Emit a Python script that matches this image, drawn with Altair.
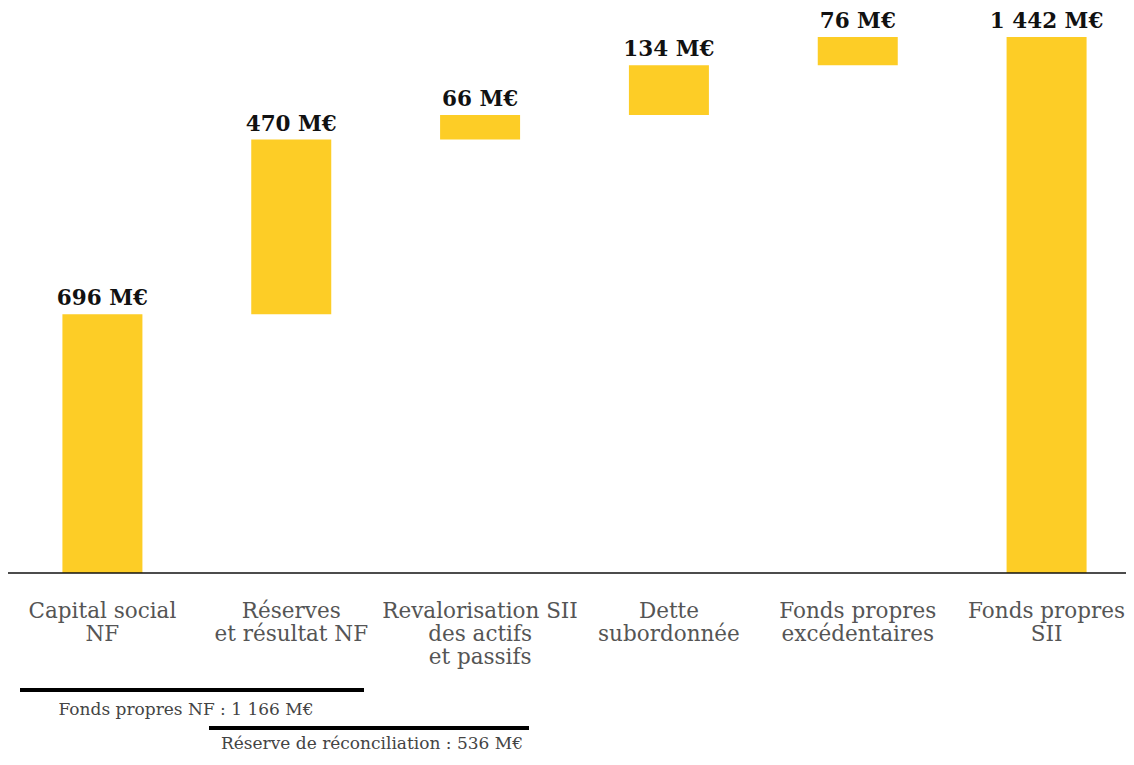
import altair as alt
import pandas as pd

categories = [
    "Capital social\nNF",
    "Réserves\net résultat NF",
    "Revalorisation SII\ndes actifs\net passifs",
    "Dette\nsubordonnée",
    "Fonds propres\nexcédentaires",
    "Fonds propres\nSII",
]
values = [696, 470, 66, 134, 76, 1442]
is_total = [False, False, False, False, False, True]
value_labels = ["696 M€", "470 M€", "66 M€", "134 M€", "76 M€", "1 442 M€"]

brackets = ["Fonds propres NF : 1 166 M€", "Réserve de réconciliation : 536 M€"]

starts, ends = [], []
run = 0
for v, t in zip(values, is_total):
    if t:
        starts.append(0)
        ends.append(v)
    else:
        starts.append(run)
        ends.append(run + v)
        run += v

df = pd.DataFrame({"cat": categories, "start": starts, "end": ends, "label": value_labels})

YELLOW = "#FDCD26"
SERIF = "DejaVu Serif"

W = 1118
H = 747
xscale = alt.Scale(domain=categories, range=[0, 1133], paddingInner=0, paddingOuter=0)
# 565 px for 1520 units above the baseline
ymin = 1520 - H * 1520 / 565
yscale = alt.Scale(domain=[ymin, 1520], nice=False, zero=False)

x = alt.X("cat:N", sort=categories, scale=xscale, axis=None)

base = alt.Chart(df)

bars = base.mark_bar(width=80, color=YELLOW).encode(
    x=x,
    y=alt.Y("start:Q", scale=yscale, axis=None),
    y2="end:Q",
)

texts = base.mark_text(font=SERIF, fontWeight="bold", fontSize=21.5, color="#111111",
                       baseline="alphabetic", dy=-9).encode(
    x=x,
    y=alt.Y("end:Q", scale=yscale),
    text="label:N",
)

cat_labels = base.mark_text(font=SERIF, fontSize=21.5, color="#555555",
                            baseline="alphabetic", lineBreak="\n", lineHeight=23,
                            align="center").encode(
    x=x,
    y=alt.value(610),
    text="cat:N",
)

baseline = alt.Chart(pd.DataFrame({"v": [0]})).mark_rule(color="#111111", strokeWidth=1.6).encode(
    y=alt.Y("v:Q", scale=yscale),
    x=alt.value(0),
    x2=alt.value(W),
)

br_df = pd.DataFrame({"name": brackets})
br1 = alt.Chart(br_df.iloc[[0]]).mark_rule(color="#000000", strokeWidth=4).encode(
    x=alt.value(12), x2=alt.value(356), y=alt.value(682))
br2 = alt.Chart(br_df.iloc[[1]]).mark_rule(color="#000000", strokeWidth=4).encode(
    x=alt.value(201), x2=alt.value(521), y=alt.value(720))
bt1 = alt.Chart(br_df.iloc[[0]]).mark_text(font=SERIF, fontSize=17, color="#444444",
                                           baseline="alphabetic").encode(
    x=alt.value(178), y=alt.value(707), text="name:N")
bt2 = alt.Chart(br_df.iloc[[1]]).mark_text(font=SERIF, fontSize=17, color="#444444",
                                           baseline="alphabetic").encode(
    x=alt.value(364), y=alt.value(741), text="name:N")

chart = alt.layer(bars, texts, baseline, cat_labels, br1, br2, bt1, bt2).properties(
    width=W, height=H, padding=0, background="white",
    autosize=alt.AutoSizeParams(type="none"),
).configure_view(strokeWidth=0)

chart.save("out.html", embed_options={"renderer": "svg", "actions": False})
